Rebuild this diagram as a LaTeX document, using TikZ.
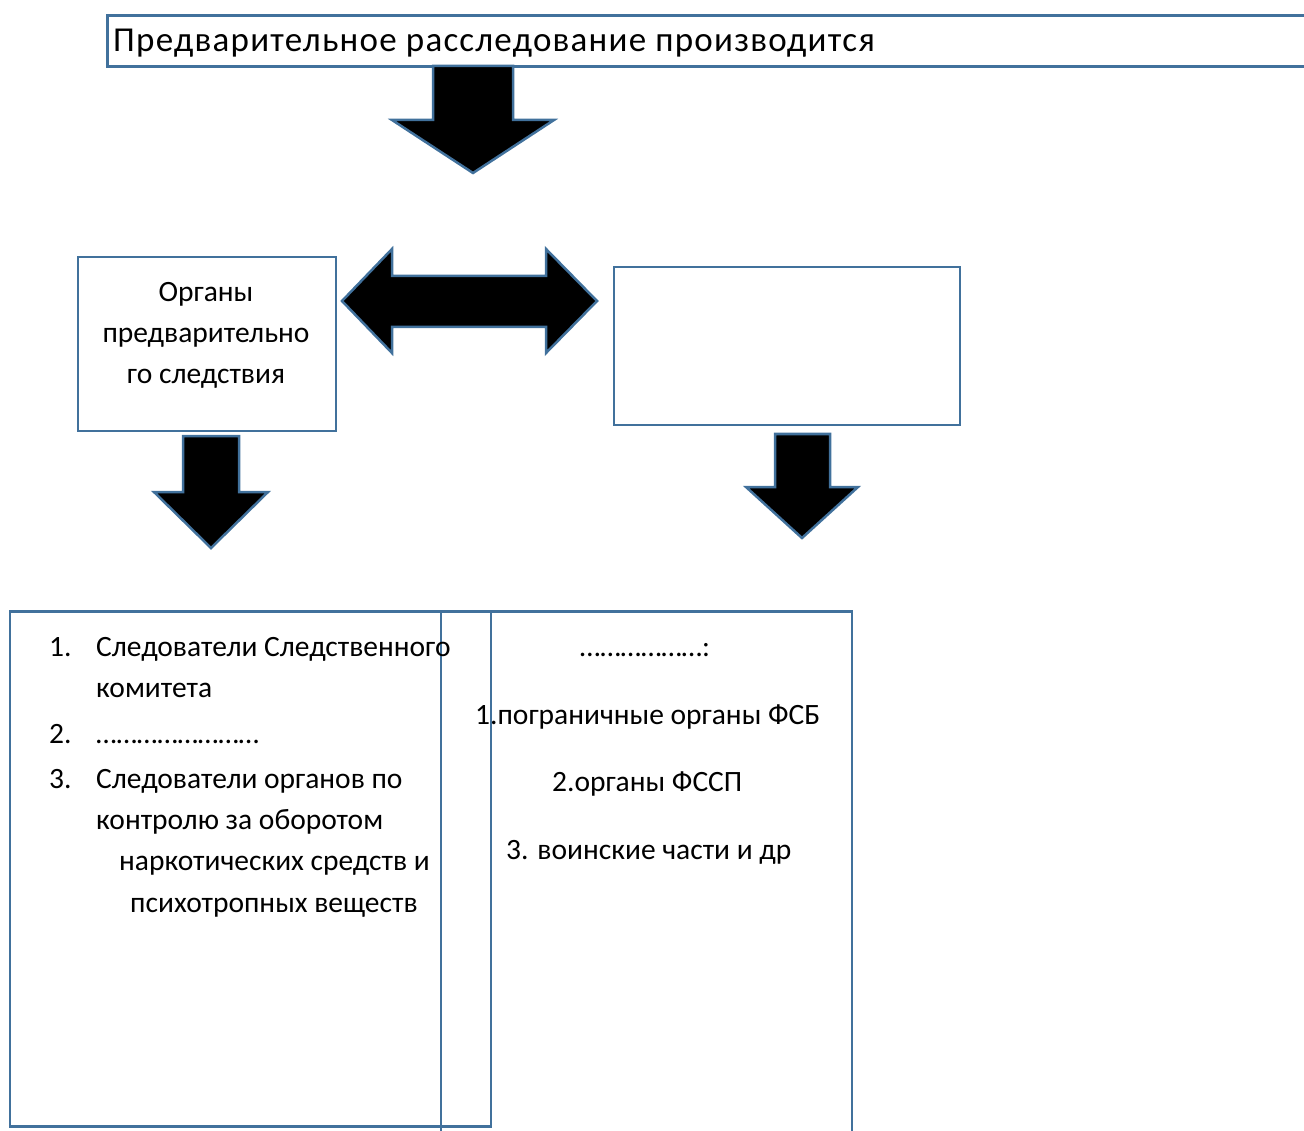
\documentclass[tikz,border=0pt]{standalone}
\usepackage{fontspec}
\setmainfont{Carlito}
\newfontfamily\titlefont[LetterSpace=3.5]{Carlito}
\definecolor{bord}{HTML}{41719C}
\tikzset{
  box/.style={draw=bord, line width=2.5pt, inner sep=0pt, anchor=north west},
  bigarrow/.style={fill=black, draw=bord, line width=2.5pt, line join=miter},
  txt/.style={inner sep=0pt, anchor=base west, font=\fontsize{29.5}{35}\selectfont},
  ctxt/.style={inner sep=0pt, anchor=base, font=\fontsize{29.5}{35}\selectfont},
}
\begin{document}
\begin{tikzpicture}[x=1pt,y=-1pt]
\useasboundingbox (0,0) rectangle (1304,1131);
\clip (0,0) rectangle (1304,1131);
% top box
\node[box, minimum width=1220pt, minimum height=51pt] (top) at (106,14.5) {};
\node[inner sep=0pt, anchor=base west, font=\titlefont\fontsize{35}{42}\selectfont] (title) at (113,52) {Предварительное расследование производится};
% arrow 1
\draw[bigarrow] (433,66) -- (513,66) -- (513,120) -- (554,120) -- (473,173) -- (392,120) -- (433,120) -- cycle;
% left small box
\node[box, minimum width=258pt, minimum height=174pt] (organs) at (76.5,256) {};
\node[ctxt] (o1) at (206,302) {Органы};
\node[ctxt] (o2) at (206,343) {предварительно};
\node[ctxt] (o3) at (206,384) {го следствия};
% double arrow
\draw[bigarrow] (342,301) -- (392,249) -- (392,276) -- (546,276) -- (546,249) -- (597,301) -- (546,353) -- (546,327) -- (392,327) -- (392,353) -- cycle;
% right small box
\node[box, minimum width=346pt, minimum height=158pt] (other) at (612.5,266) {};
% arrow 2
\draw[bigarrow] (183,436) -- (239,436) -- (239,492) -- (268,492) -- (211,548) -- (154,492) -- (183,492) -- cycle;
% arrow 3
\draw[bigarrow] (775,434) -- (830,434) -- (830,487) -- (858,487) -- (802,538) -- (746,487) -- (775,487) -- cycle;
% bottom boxes
\node[box, minimum width=481pt, minimum height=515pt] (listL) at (8.5,610) {};
\node[box, minimum width=411pt, minimum height=560pt] (listR) at (439.5,610) {};
% left list text
\node[txt] (n1) at (49,656) {1.};
\node[txt] (l1) at (96,656) {Следователи Следственного};
\node[txt] (l1b) at (96,697) {комитета};
\node[txt] (n2) at (49,743) {2.};
\node[txt] (l2) at (96,743) {……………………};
\node[txt] (n3) at (49,788) {3.};
\node[txt] (l3) at (96,788) {Следователи органов по};
\node[txt] (l3b) at (96,829) {контролю за оборотом};
\node[txt] (l3c) at (119,870) {наркотических средств и};
\node[txt] (l3d) at (130,912) {психотропных веществ};
% right list text
\node[ctxt] (r0) at (645,656) {………………:};
\node[txt] (r1) at (475,724) {1.пограничные органы ФСБ};
\node[txt] (r2) at (552,791) {2.органы ФССП};
\node[txt] (r3) at (506,859) {3. воинские части и др};
\end{tikzpicture}
\end{document}
